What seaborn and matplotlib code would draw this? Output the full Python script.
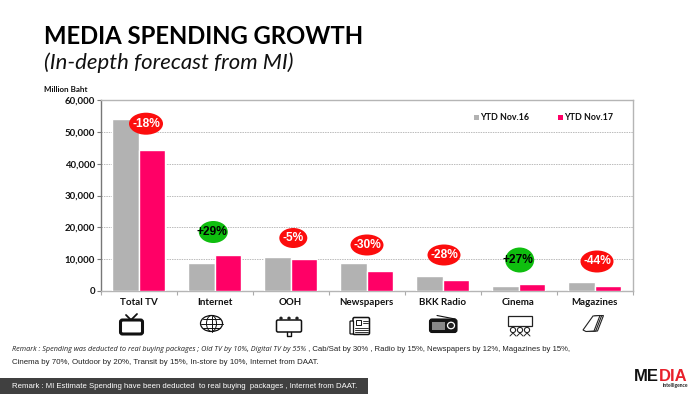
import matplotlib
matplotlib.use("Agg")
import matplotlib.pyplot as plt
from matplotlib.patches import Ellipse, Rectangle, FancyBboxPatch, Circle, Polygon
import seaborn as sns
import pandas as pd

categories = ["Total TV", "Internet", "OOH", "Newspapers", "BKK Radio", "Cinema", "Magazines"]
ytd16 = [54300, 8700, 10500, 8800, 4700, 1500, 2600]
ytd17 = [44400, 11200, 10000, 6200, 3400, 2000, 1500]
series_names = ["YTD Nov.16", "YTD Nov.17"]
growth_labels = ["-18%", "+29%", "-5%", "-30%", "-28%", "+27%", "-44%"]
yticks = [0, 10000, 20000, 30000, 40000, 50000, 60000]

GREY, PINK, RED, GREEN = "#b2b2b2", "#ff0066", "#fc0d0d", "#0fbe0f"
W, H = 700, 394
sns.set_theme(style="white")
plt.rcParams["font.family"] = ["Lato", "DejaVu Sans"]

fig = plt.figure(figsize=(W / 100, H / 100), dpi=100, facecolor="white")
ax = fig.add_axes([100.5 / W, 1 - 290.7 / H, 532 / W, 190.2 / H])
df = pd.DataFrame({"cat": categories * 2,
                   "v": ytd16 + ytd17,
                   "s": [series_names[0]] * 7 + [series_names[1]] * 7})
sns.barplot(data=df, x="cat", y="v", hue="s", palette=[GREY, PINK], width=0.69, gap=0,
            saturation=1, ax=ax, legend=False, zorder=3)
ax.set_xlim(-0.5, 6.5)
ax.set_ylim(0, 60000)
ax.set_xlabel("")
ax.set_ylabel("")
ax.set_yticks(yticks)
ax.set_yticklabels([f"{t:,}" for t in yticks], fontsize=6.9, fontweight="bold", color="#111111")
ax.set_xticks([i - 0.5 for i in range(8)], minor=False)
ax.set_xticklabels([])
for i, c in enumerate(categories):
    ax.text(i, -3600, c, ha="center", va="center", fontsize=7, fontweight="bold", color="#111111")
ax.tick_params(axis="x", length=3, width=0.8, color="#aaaaaa", bottom=True)
ax.tick_params(axis="y", length=3, width=0.8, color="#777777", left=True, pad=1)
ax.grid(axis="y", linestyle=(0, (1.5, 1)), color="#bbbbbb", linewidth=0.7, zorder=0)
ax.set_axisbelow(True)
for k, s in ax.spines.items():
    s.set_color("#b5b5b5")
    s.set_linewidth(1)
ax.spines["left"].set_color("#777777")

# Overlay in image pixels
ov = fig.add_axes([0, 0, 1, 1], zorder=5)
ov.set_xlim(0, W)
ov.set_ylim(H, 0)
ov.axis("off")
ov.patch.set_alpha(0)

ov.text(44, 36, "MEDIA SPENDING GROWTH", fontsize=17.2, fontweight="bold", color="black",
        va="center", ha="left")
ov.text(44, 62.5, "(In-depth forecast from MI)", fontsize=15.9, style="italic", color="#111111",
        va="center", ha="left")
ov.text(44, 89, "Million Baht", fontsize=5.8, fontweight="bold", color="#111111", va="center")

# Legend
for lx, name, col in [(473.5, series_names[0], GREY), (557.5, series_names[1], PINK)]:
    ov.add_patch(Rectangle((lx, 115), 5, 5, color=col, lw=0))
    ov.text(lx + 7, 117.3, name, fontsize=6.4, fontweight="bold", color="#111111", va="center")

# Growth bubbles
bubbles = [(146, 123.7, 34, 22), (213.3, 232, 29, 22), (293.3, 238, 28, 20), (367, 245, 33, 21),
           (444, 255, 33, 21), (519.7, 260, 29, 25), (597, 261.5, 33, 22)]
for (x, y, w, h), lab in zip(bubbles, growth_labels):
    pos = lab.startswith("+")
    ov.add_patch(Ellipse((x, y), w, h, color=GREEN if pos else RED, lw=0))
    ov.text(x - (1.5 if pos else 0), y, lab, ha="center", va="center", fontsize=8.6, fontweight="bold",
            color="black" if pos else "white", family="Liberation Sans")

# Icons
def box(x, y, w, h, lw=1.2, fc="white", r=1.5):
    ov.add_patch(FancyBboxPatch((x, y), w, h, boxstyle=f"round,pad=0,rounding_size={r}",
                                ec="#111111", fc=fc, lw=lw))
# TV
box(120.5, 320, 22, 14, lw=2.2, r=2)
ov.plot([126, 131, 137], [315, 320, 314], color="#111111", lw=1.3)
# Globe
ov.add_patch(Ellipse((211.5, 323.5), 22, 16, ec="#111111", fc="white", lw=0.9))
ov.add_patch(Ellipse((211.5, 323.5), 10, 16, ec="#111111", fc="none", lw=0.7))
ov.plot([211.5, 211.5], [315.5, 331.5], color="#111111", lw=0.7)
for yy, xa, xb in ((319, 203, 220), (323.5, 200.5, 222.5), (328, 203, 220)):
    ov.plot([xa, xb], [yy, yy], color="#111111", lw=0.7)
# Billboard
box(276.5, 320, 25, 12, lw=1.1)
for xx in (281, 289, 297):
    ov.add_patch(Circle((xx, 318.3), 1.7, color="#222222", lw=0))
ov.plot([287, 287, 291, 291], [332, 336, 336, 332], color="#111111", lw=1)
# Newspaper
box(353, 317.5, 16.5, 17, lw=1.1)
box(350, 321, 3.5, 13, lw=0.9, r=0.8)
ov.add_patch(Rectangle((356, 320), 5, 5, ec="#111111", fc="white", lw=0.7))
for yy in (327.5, 330, 332):
    ov.plot([355, 367.5], [yy, yy], color="#333333", lw=0.7)
for yy in (320.5, 323):
    ov.plot([362.5, 367.5], [yy, yy], color="#333333", lw=0.7)
# Radio
box(429.5, 319, 27.5, 13.5, lw=0.8, fc="#151515", r=2.5)
ov.plot([437, 455], [315.5, 319], color="#111111", lw=0.8)
ov.add_patch(Rectangle((432, 321.5), 13, 8.5, color="#888888", lw=0))
ov.add_patch(Ellipse((451, 325.5), 7, 6.5, ec="white", fc="#222222", lw=0.9))
# Cinema
ov.add_patch(Rectangle((508, 315.5), 24, 10, ec="#222222", fc="white", lw=0.9))
for xx in (513, 520, 527):
    ov.add_patch(Circle((xx, 330), 2.6, ec="#222222", fc="white", lw=0.8))
    ov.plot([xx - 3, xx, xx + 3], [336, 333, 336], color="#222222", lw=0.7)
# Magazines
for dx in (3.5, 1.7, 0):
    ov.add_patch(Polygon([(583 + dx, 330), (593 + dx, 316), (600 + dx, 315.5), (594 + dx, 331), (586 + dx, 331.5)],
                         closed=True, ec="#222222", fc="white", lw=0.8))

# Remarks
t1 = ov.text(12, 349.5, "Remark : Spending was deducted to real buying packages ; Old TV by 10%, Digital TV by 55%",
             fontsize=5.25, style="italic", color="#222222", va="center", family="Open Sans")
ov.annotate(" , Cab/Sat by 30% , Radio by 15%, Newspapers by 12%, Magazines by 15%,", xy=(1, 0.5),
            xycoords=t1, va="center", fontsize=5.6, color="#222222", family="Liberation Sans")
ov.text(12, 362, "Cinema by 70%, Outdoor by 20%, Transit by 15%, In-store by 10%, Internet from DAAT.",
        fontsize=5.65, color="#222222", va="center", family="Liberation Sans")
ov.add_patch(Rectangle((0, 377.5), 368, 16.5, color="#404040", lw=0))
ov.text(12, 386, "Remark : MI Estimate Spending have been deducted  to real buying  packages , Internet from DAAT.",
        fontsize=5.6, color="white", va="center", family="Liberation Sans")

# Logo
t2 = ov.text(634, 376.5, "ME", fontsize=12, fontweight="bold", color="#111111", va="center", family="Liberation Sans")
ov.annotate("DIA", xy=(1, 0.5), xycoords=t2, va="center", fontsize=12, fontweight="bold",
            color="#e8212b", family="Liberation Sans")
ov.text(688, 385.5, "intelligence", fontsize=3.6, fontweight="bold", color="#222222", va="center", ha="right")

fig.savefig("out.png", dpi=100)
